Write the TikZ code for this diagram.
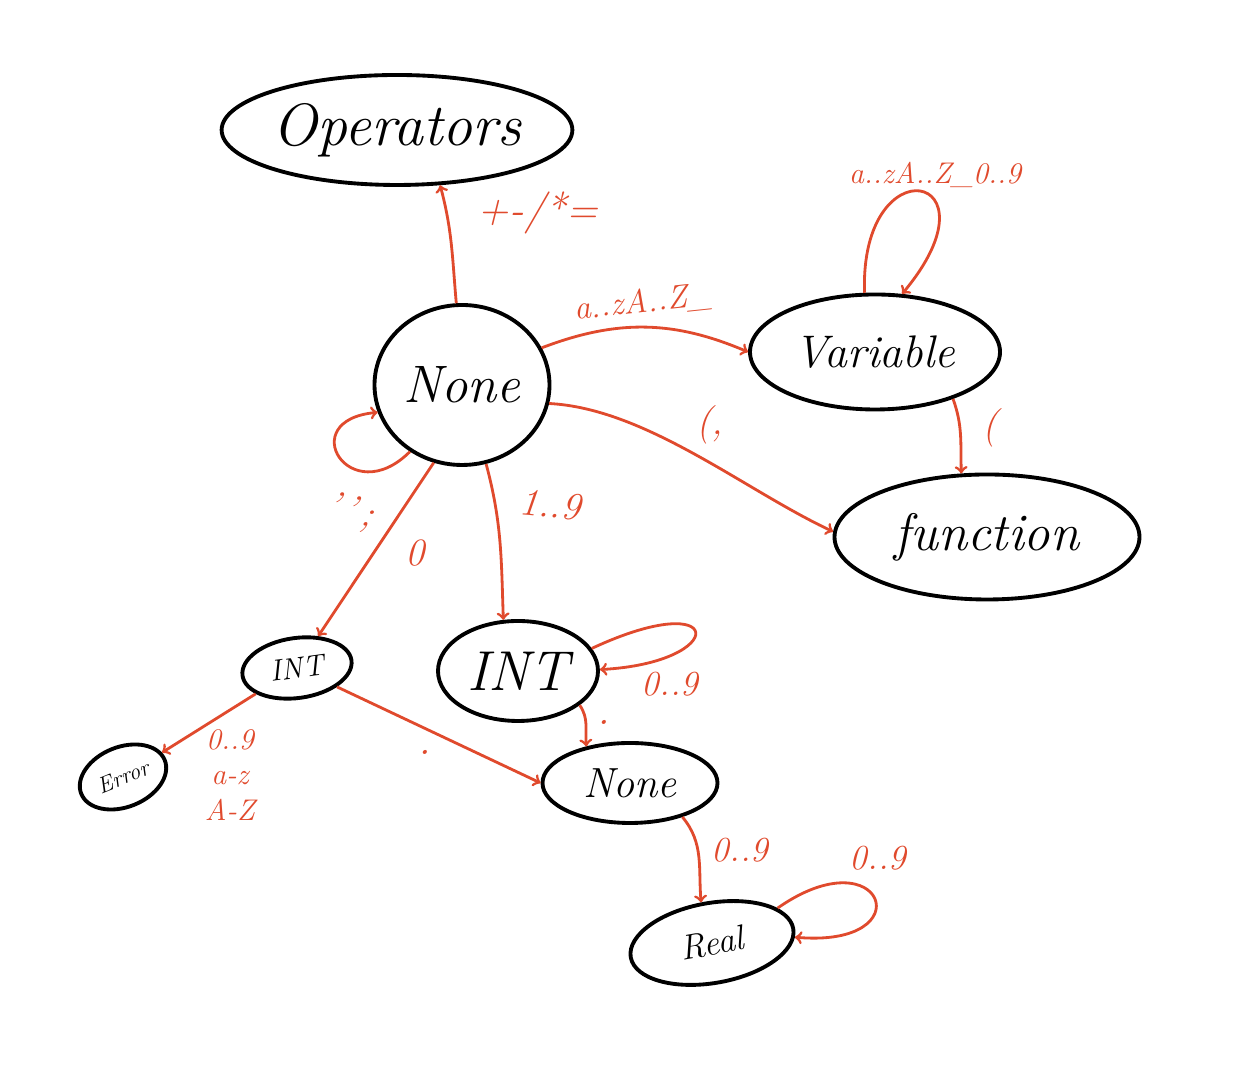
\documentclass[tikz,border=0pt]{standalone}
\usepackage{tikz}
\usetikzlibrary{shapes.geometric}
\definecolor{pen}{HTML}{E04A2D}
\newcommand{\setfs}[1]{\fontsize{#1}{#1}\selectfont\itshape}

\begin{document}
\begin{tikzpicture}[statenode/.style = {shape=ellipse, draw, line width=2.2pt, inner sep=0pt, align=center},
    trans/.style = {->, draw=pen, line width=1.6pt},
    lbl/.style = {text=pen, align=center}]
    \useasboundingbox (0,0) rectangle (25.1,21.54);
    % states
    \node[statenode, minimum width=7cm, minimum height=2.2cm, font=\setfs{34}] (ops) at (7.94,18.94) {Operators};
    \node[statenode, minimum width=3.5cm, minimum height=3.2cm, font=\setfs{30}] (none) at (9.24,13.84) {None};
    \node[statenode, minimum width=5cm, minimum height=2.3cm, font=\setfs{26}] (var) at (17.5,14.5) {Variable};
    \node[statenode, minimum width=6.1cm, minimum height=2.5cm, font=\setfs{30}] (fun) at (19.74,10.8) {function};
    \node[statenode, minimum width=2.2cm, minimum height=1.2cm, font=\setfs{17}, rotate=8] (intsm) at (5.94,8.18) {INT};
    \node[statenode, minimum width=3.2cm, minimum height=2cm, font=\setfs{32}] (intb) at (10.36,8.12) {INT};
    \node[statenode, minimum width=1.8cm, minimum height=1.2cm, font=\setfs{13}, rotate=22] (err) at (2.46,6.0) {Error};
    \node[statenode, minimum width=3.5cm, minimum height=1.6cm, font=\setfs{24}] (nonel) at (12.6,5.88) {None};
    \node[statenode, minimum width=3.3cm, minimum height=1.6cm, font=\setfs{20}, rotate=10] (real) at (14.24,2.68) {Real};
    % transitions
    \draw[trans] (none.94) to[out=95,in=-75] (ops.308);
    \draw[trans] (none.25) to[bend left=22] (var.west);
    \draw[trans] (var.100) .. controls +(92:3) and +(50:3.2) .. (var.65);
    \draw[trans] (var.329) to[out=-70,in=92] (fun.112);
    \draw[trans] (none.-12) to[out=-3,in=155,looseness=0.8] (fun.178);
    \draw[trans] (none.232) .. controls +(225:1.7) and +(185:1.7) .. (none.198);
    \draw[trans] (none.250) -- (intsm);
    \draw[trans] (none.287) to[out=-75,in=92] (intb.106);
    \draw[trans] (intb.17) .. controls +(25:3) and +(3:2.6) .. (intb.1);
    \draw[trans] (intb.331) to[out=-55,in=95] (nonel.140);
    \draw[trans] (intsm) -- (nonel.west);
    \draw[trans] (intsm) -- (err);
    \draw[trans] (nonel.327) to[out=-50,in=95] (real.95);
    \draw[trans] (real.18) .. controls +(35:2.6) and +(-5:2.6) .. (real.-6);
    % labels
    \node[lbl, font=\setfs{24}] (l-ops) at (10.76,17.28) {+-/*=};
    \node[lbl, font=\setfs{17}] (l-varloop) at (18.7,18.04) {a..zA..Z\_0..9};
    \node[lbl, font=\setfs{19}, rotate=6] (l-var) at (12.86,15.48) {a..zA..Z\_};
    \node[lbl, font=\setfs{22}] (l-fun) at (19.8,12.98) {(};
    \node[lbl, font=\setfs{22}] (l-call) at (14.2,13.04) {(,};
    \node[lbl, font=\setfs{22}, rotate=-15] (l-skip) at (7.0,11.3) {'\,'\,;};
    \node[lbl, font=\setfs{22}] (l-zero) at (8.3,10.48) {0};
    \node[lbl, font=\setfs{22}, rotate=-5] (l-digit) at (11.0,11.44) {1..9};
    \node[lbl, font=\setfs{20}] (l-intloop) at (13.4,7.85) {0..9};
    \node[lbl, font=\setfs{24}] (l-dot1) at (12.08,7.1) {.};
    \node[lbl, font=\setfs{24}] (l-dot2) at (8.5,6.5) {.};
    \node[lbl, font=\setfs{17}] (l-err) at (4.6,6.04) {0..9\\[3pt]a-z\\[3pt]A-Z};
    \node[lbl, font=\setfs{20}] (l-real) at (14.8,4.54) {0..9};
    \node[lbl, font=\setfs{20}] (l-realloop) at (17.56,4.38) {0..9};
\end{tikzpicture}
\end{document}
